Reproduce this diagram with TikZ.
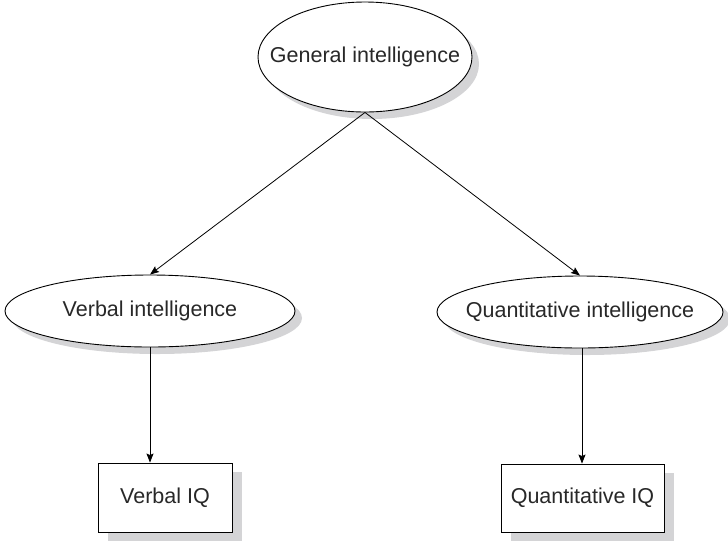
\documentclass[tikz,border=0pt]{standalone}
\usepackage{fontspec}
\setmainfont{Liberation Sans}
\usetikzlibrary{shapes.geometric,shadows,arrows.meta}
\definecolor{ink}{RGB}{40,40,40}
\definecolor{shade}{RGB}{212,212,214}
% zero-width label so the oval keeps the size given by minimum width/height
\newcommand{\ovallabel}[1]{\makebox[0pt]{#1}}
\begin{document}
\begin{tikzpicture}[x=1pt,y=-1pt,
  every node/.style={font=\fontsize{21.5}{24}\selectfont, text=ink, inner sep=0pt},
  boxshadow/.style={drop shadow={shadow xshift=10pt,shadow yshift=-9pt,fill=shade,opacity=1}},
  ovalshadow/.style={drop shadow={shadow xshift=7pt,shadow yshift=-7pt,fill=shade,opacity=1}},
  latent/.style={ellipse, draw=black, line width=0.9pt, fill=white, ovalshadow},
  observed/.style={rectangle, draw=black, line width=0.9pt, fill=white, boxshadow},
  link/.style={draw=black, line width=0.8pt, -{Stealth[length=9pt,width=7pt,inset=1.5pt]}}
]
\useasboundingbox (0,0) rectangle (728,542);
\node[latent, minimum width=214pt, minimum height=110pt] (g) at (365,57) {\ovallabel{General intelligence}};
\node[latent, minimum width=290pt, minimum height=72pt] (v) at (150,311) {\ovallabel{Verbal intelligence}};
\node[latent, minimum width=286pt, minimum height=72pt] (q) at (580,312) {\ovallabel{Quantitative intelligence}};
\node[observed, minimum width=134pt, minimum height=69pt] (vb) at (165,497.5) {Verbal IQ};
\node[observed, minimum width=163pt, minimum height=68pt] (qb) at (582.5,498) {Quantitative IQ};
\draw[link] (g.south) -- (v.north);
\draw[link] (g.south) -- (q.north);
\draw[link] (v.south) -- (v.south |- vb.north);
\draw[link] (q.south -| 582,0) -- (582,0 |- qb.north);
\end{tikzpicture}
\end{document}
